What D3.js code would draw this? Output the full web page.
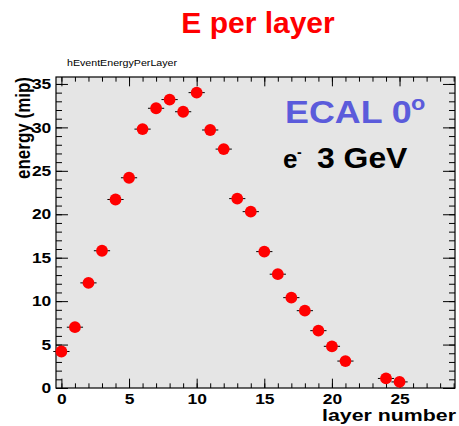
<!DOCTYPE html>
<html>
<head>
<meta charset="utf-8">
<script src="https://cdn.jsdelivr.net/npm/d3@7"></script>
<style>
body {
  margin: 0;
  background-color: white;
}
text {
  font-family: "Liberation Sans", Arial, sans-serif;
}
</style>
</head>
<body>
<script>

// energy deposited per layer (layers 22 and 23 are empty)
const layers = [0, 1, 2, 3, 4, 5, 6, 7, 8, 9, 10, 11, 12, 13, 14, 15, 16, 17, 18, 19, 20, 21, 24, 25];
const energy = [4.2, 7.0, 12.1, 15.8, 21.7, 24.2, 29.8, 32.2, 33.2, 31.8, 34.0, 29.7, 27.5, 21.8,
                20.3, 15.7, 13.1, 10.4, 8.9, 6.6, 4.8, 3.1, 1.1, 0.7];
const xMajor = [0, 5, 10, 15, 20, 25];
const yMajor = [0, 5, 10, 15, 20, 25, 30, 35];
const xMinor = d3.range(0, 30, 1);
const yMinor = d3.range(0, 36, 1);

const dataset = layers.map((l, i) => [l, energy[i]]);

const W = 459, H = 426;
const svg = d3.select("body")
            .append("svg")
            .attr("width", W)
            .attr("height", H);

// frame box in pixels
const frame = {left: 56, right: 455, top: 77, bottom: 388};
const SX = 1.2; // the picture is stretched sideways a bit

const xScale = d3.scaleLinear()
               .domain([-0.4, 29.1])
               .range([frame.left, frame.right]);

const yScale = d3.scaleLinear()
               .domain([0, 35.8])
               .range([frame.bottom, frame.top]);

// title
svg.append("text")
   .attr("x", 258).attr("y", 33)
   .attr("text-anchor", "middle")
   .attr("font-size", 30).attr("font-weight", "bold")
   .attr("fill", "#ff0000")
   .text("E per layer");

svg.append("text")
   .attr("x", 67).attr("y", 66)
   .attr("font-size", 9.5)
   .attr("textLength", 110).attr("lengthAdjust", "spacingAndGlyphs")
   .text("hEventEnergyPerLayer");

// frame fill
svg.append("rect")
   .attr("x", frame.left).attr("y", frame.top)
   .attr("width", frame.right - frame.left)
   .attr("height", frame.bottom - frame.top)
   .attr("fill", "#e5e5e5");

const xLen = 0.03 * (frame.bottom - frame.top);
const yLen = 0.03 * (frame.right - frame.left);

function tickAxis(axis, values, size, pos, labels) {
  const g = svg.append("g")
     .attr("transform", pos)
     .call(axis.tickValues(values).tickSize(-size).tickSizeOuter(0)
               .tickFormat(labels ? d3.format("d") : ""));
  g.select(".domain").remove();
  g.selectAll("line").attr("stroke", "black");
  return g;
}

// minor ticks on all four sides
tickAxis(d3.axisBottom(xScale), xMinor, xLen / 2, `translate(0,${frame.bottom})`, false);
tickAxis(d3.axisTop(xScale), xMinor, xLen / 2, `translate(0,${frame.top})`, false);
tickAxis(d3.axisLeft(yScale), yMinor, yLen / 2, `translate(${frame.left},0)`, false);
tickAxis(d3.axisRight(yScale), yMinor, yLen / 2, `translate(${frame.right},0)`, false);

// major ticks
const xAx = tickAxis(d3.axisBottom(xScale).tickPadding(6), xMajor, xLen, `translate(0,${frame.bottom})`, true);
tickAxis(d3.axisTop(xScale), xMajor, xLen, `translate(0,${frame.top})`, false);
const yAx = tickAxis(d3.axisLeft(yScale).tickPadding(4), yMajor, yLen, `translate(${frame.left},0)`, true);
tickAxis(d3.axisRight(yScale), yMajor, yLen, `translate(${frame.right},0)`, false);

[xAx, yAx].forEach(g => g.selectAll("text")
   .attr("font-size", 14.5).attr("font-weight", "bold")
   .attr("font-family", "'Liberation Sans', Arial, sans-serif")
   .attr("fill", "black")
   .attr("transform", `scale(${SX},1)`));

// frame border
svg.append("rect")
   .attr("x", frame.left).attr("y", frame.top)
   .attr("width", frame.right - frame.left)
   .attr("height", frame.bottom - frame.top)
   .attr("fill", "none").attr("stroke", "black").attr("stroke-width", 1.2);

// axis titles
svg.append("text")
   .attr("transform", `translate(30,${frame.top}) scale(${SX},1) rotate(-90)`)
   .attr("text-anchor", "end")
   .attr("font-size", 17).attr("font-weight", "bold")
   .text("energy (mip)");

svg.append("text")
   .attr("x", frame.right + 1).attr("y", 421)
   .attr("text-anchor", "end")
   .attr("font-size", 17).attr("font-weight", "bold")
   .attr("textLength", 134).attr("lengthAdjust", "spacingAndGlyphs")
   .text("layer number");

// horizontal error bars
svg.selectAll("line.err").data(dataset).enter()
   .append("line")
   .attr("class", "err")
   .attr("x1", d => xScale(d[0] - 0.6))
   .attr("x2", d => xScale(d[0] + 0.6))
   .attr("y1", d => yScale(d[1]))
   .attr("y2", d => yScale(d[1]))
   .attr("stroke", "black").attr("stroke-width", 1);

svg.selectAll("circle").data(dataset).enter()
   .append("circle")
   .attr("cx", d => xScale(d[0]))
   .attr("cy", d => yScale(d[1]))
   .attr("r", 5.9)
   .attr("fill", "#ff0000");

// labels in the plot
svg.append("text")
   .attr("transform", `translate(285,123) scale(1.12,1)`)
   .attr("font-size", 32).attr("font-weight", "bold")
   .attr("fill", "#5b5bdb")
   .text("ECAL 0");
svg.append("text")
   .attr("transform", `translate(411,110) scale(1.12,1)`)
   .attr("font-size", 21).attr("font-weight", "bold")
   .attr("fill", "#5b5bdb")
   .text("o");

svg.append("text")
   .attr("x", 283).attr("y", 168)
   .attr("font-size", 26).attr("font-weight", "bold")
   .text("e");
svg.append("text")
   .attr("x", 297).attr("y", 157)
   .attr("font-size", 14).attr("font-weight", "bold")
   .text("-");
svg.append("text")
   .attr("transform", `translate(317,168) scale(1.1,1)`)
   .attr("font-size", 29).attr("font-weight", "bold")
   .text("3 GeV");

</script>
</body>
</html>
